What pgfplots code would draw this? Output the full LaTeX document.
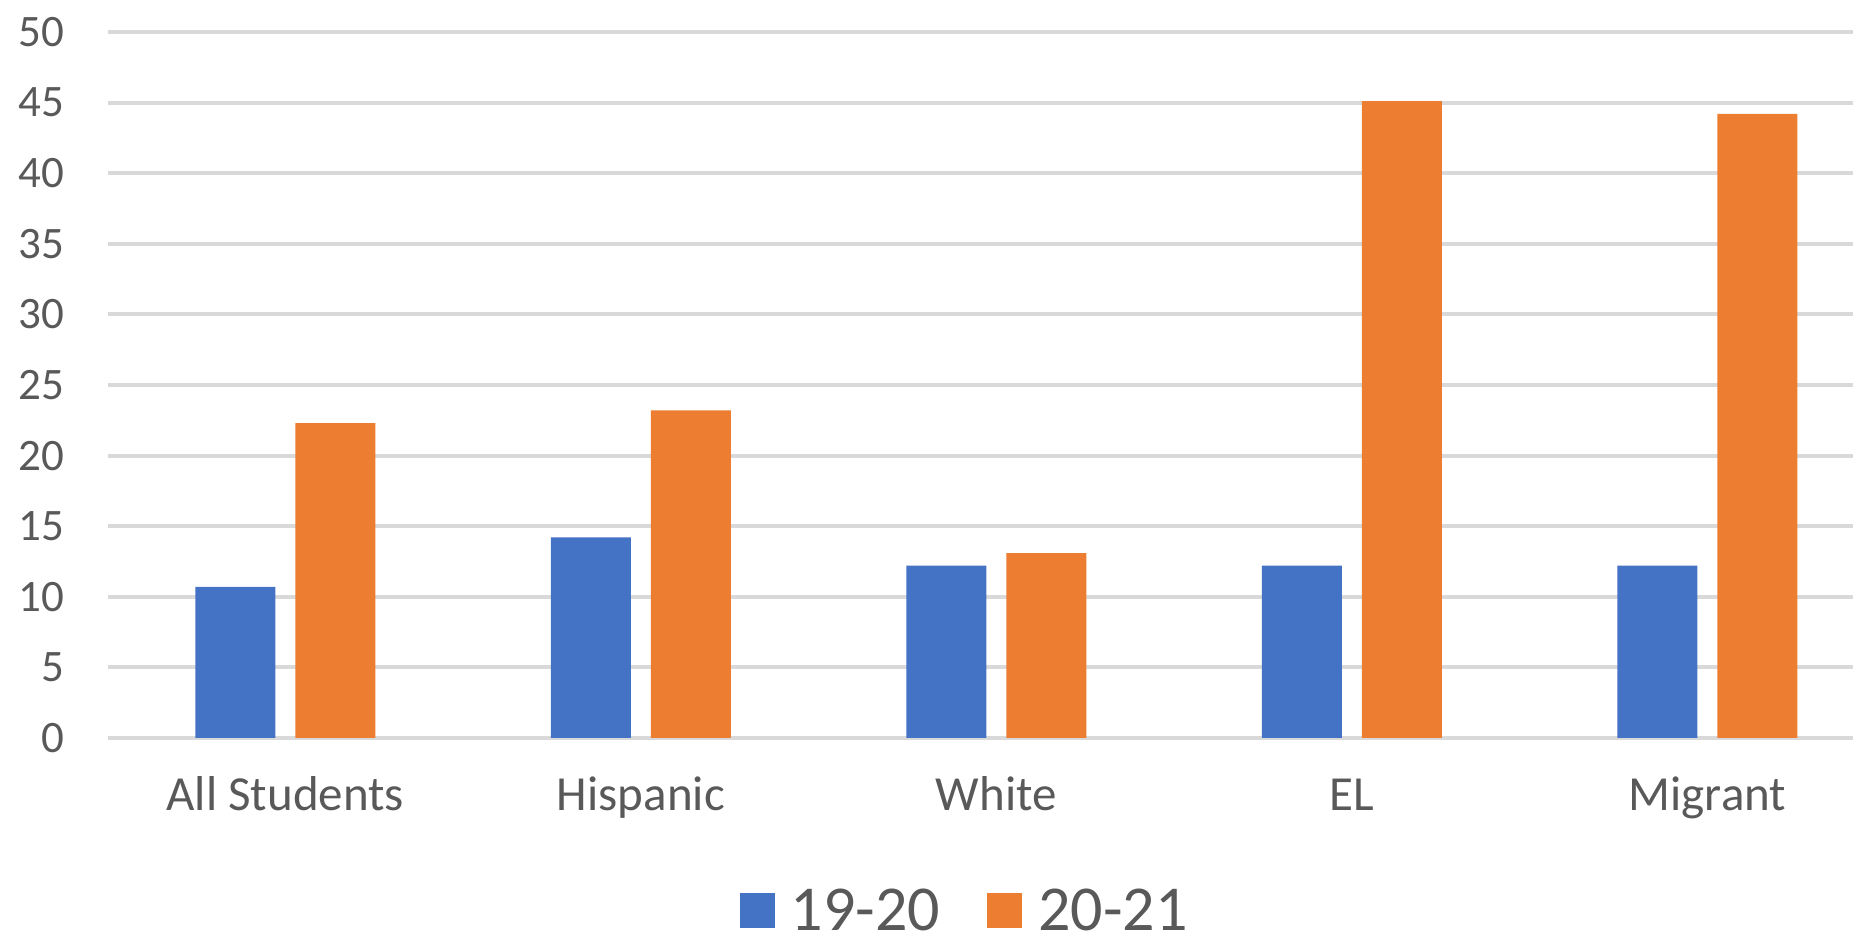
\documentclass[border=0pt]{standalone}
\usepackage{pgfplots}
\usepackage{pgfplotstable}
\pgfplotsset{compat=1.18}
\usepackage{fontspec}
\setmainfont{Carlito}
\definecolor{c1}{HTML}{4472C4}
\definecolor{c2}{HTML}{ED7D31}
\definecolor{gridc}{HTML}{D9D9D9}
\definecolor{txt}{HTML}{595959}
\pgfplotstableread{
x a b
0 10.7 22.3
1 14.2 23.2
2 12.2 13.1
3 12.2 45.1
4 12.2 44.2
}\data
\begin{document}
\begin{tikzpicture}
\begin{axis}[
  at={(53.8pt,99.5pt)}, anchor=south west,
  scale only axis, width=872.8pt, height=353pt,
  xmin=-0.5, xmax=4.41, ymin=0, ymax=50,
  ytick={0,5,...,50},
  xtick={0,1,2,3,4},
  xticklabels={All Students,Hispanic,White,EL,Migrant},
  axis line style={draw=none},
  major tick length=0pt,
  ymajorgrids, grid style={gridc, line width=2pt},
  ybar, bar width=40pt,
  /pgf/number format/assume math mode=true,
  yticklabel style={font=\fontsize{22.5}{26}\selectfont, text=txt, anchor=east, inner sep=0pt, xshift=-21.3pt},
  xticklabel style={font=\fontsize{24.5}{28}\selectfont, text=txt, anchor=base, inner sep=0pt, yshift=-36.5pt},
  legend style={at={(0.4905,-0.243)}, anchor=center, draw=none, fill=none,
    font=\fontsize{32}{38}\selectfont, text=txt,
    /tikz/every even column/.append style={column sep=23.5pt},
    /tikz/every odd column/.append style={column sep=8pt},
    inner sep=0pt, nodes={inner sep=0pt, text depth=0pt}},
  legend columns=2,
  legend image code/.code={\fill[#1] (0pt,-9pt) rectangle (17.5pt,8.5pt);},
]
\addplot[fill=c1, draw=none, bar shift=-25pt] table[x=x,y=a]{\data};
\addplot[fill=c2, draw=none, bar shift=25pt] table[x=x,y=b]{\data};
\legend{19-20,20-21}
\end{axis}
\pgfresetboundingbox
\path (0,0) rectangle (932pt,468.5pt);
\end{tikzpicture}
\end{document}
